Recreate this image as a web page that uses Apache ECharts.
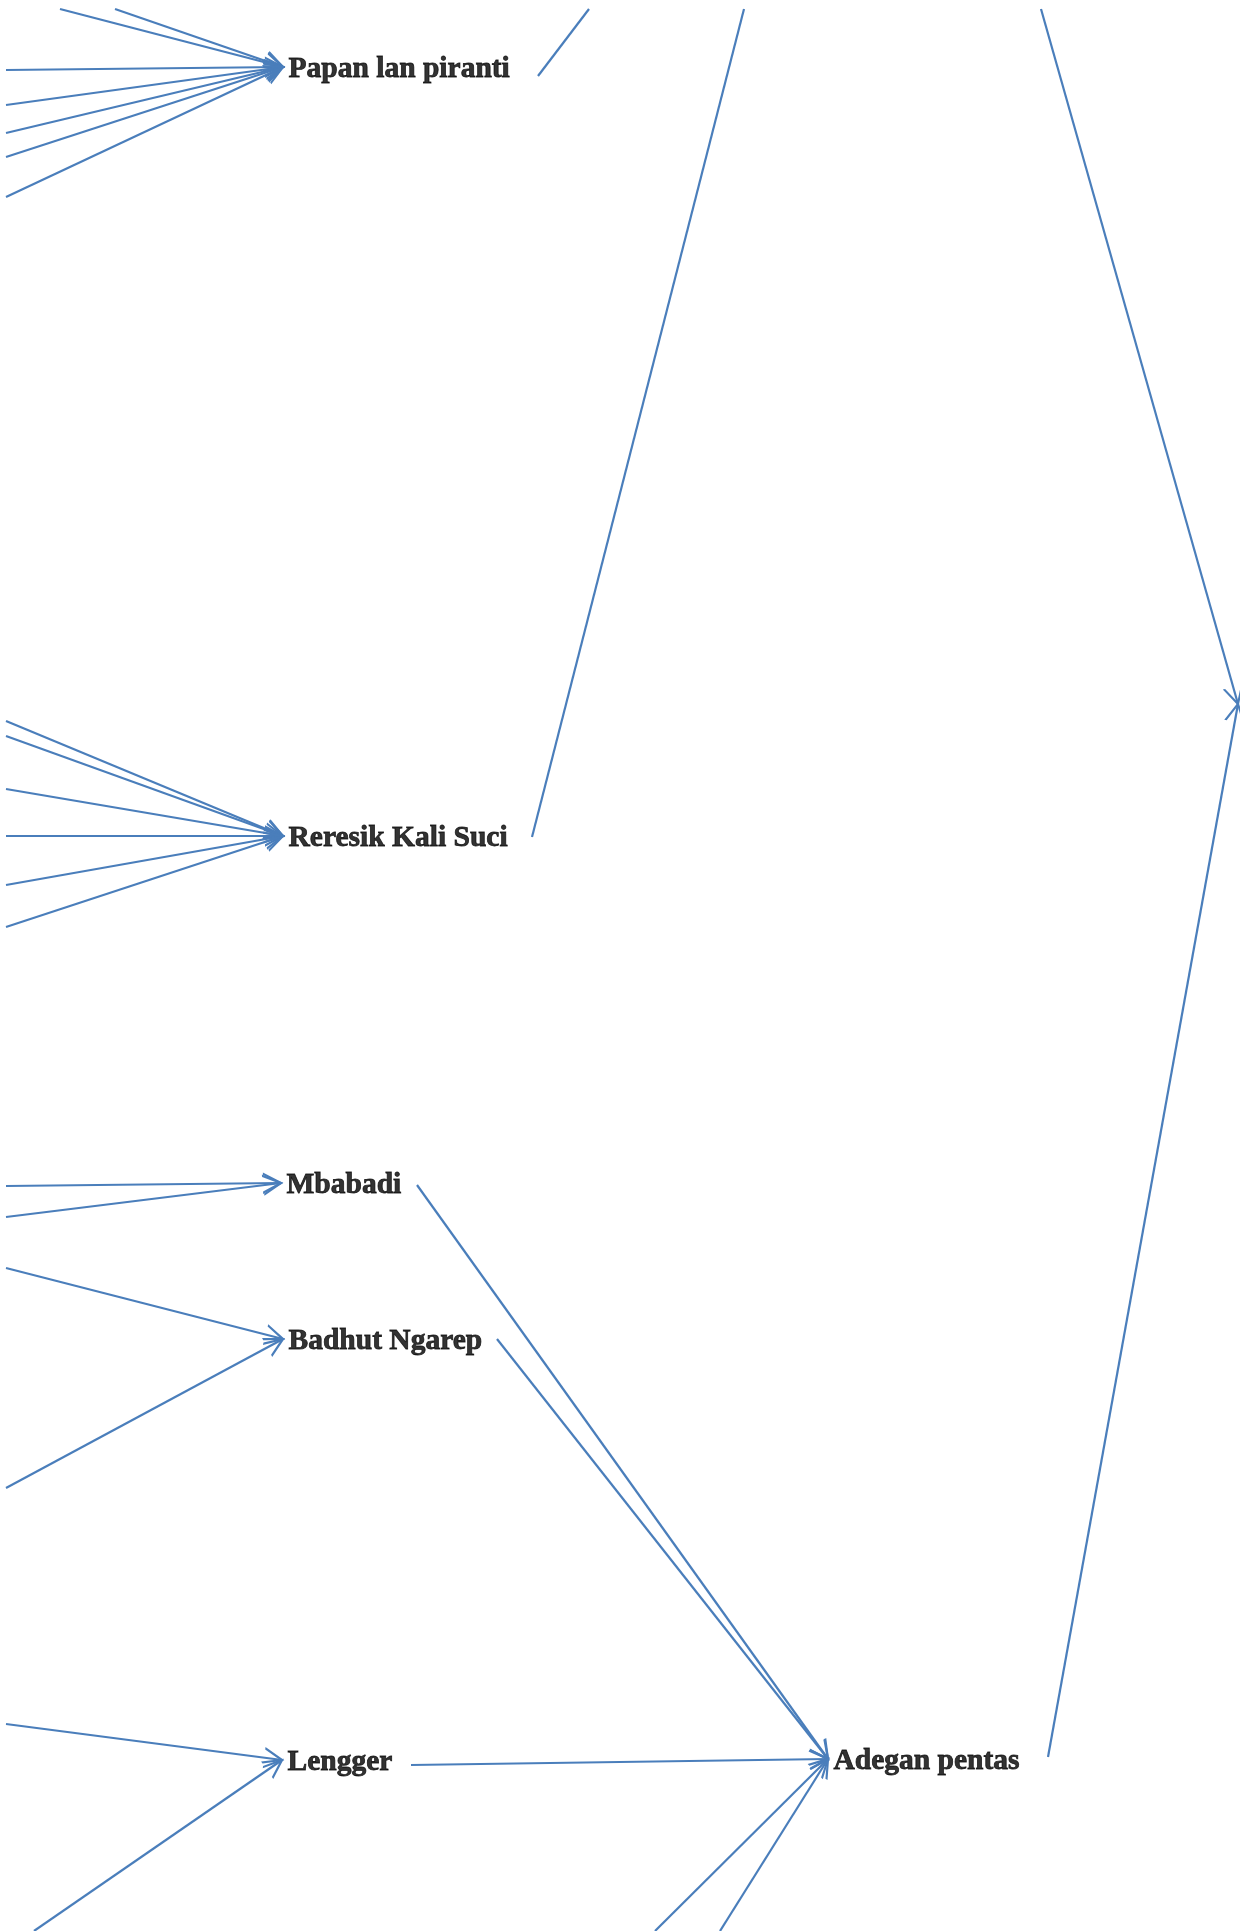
<!DOCTYPE html>
<html>
<head>
<meta charset="utf-8">
<script src="https://cdn.jsdelivr.net/npm/echarts@6/dist/echarts.min.js"></script>
<style>
html,body{margin:0;padding:0;background:#ffffff;}
#chart{width:1240px;height:1931px;}
</style>
</head>
<body>
<div id="chart"></div>
<script>
// ---- Diagram nodes (values on hidden x / y axes of the picture frame) ----
const nodeKeys   = ['papan', 'reresik', 'mbabadi', 'badhut', 'lengger', 'adegan', 'right'];
const nodeLabels = ['Papan lan piranti', 'Reresik Kali Suci', 'Mbabadi', 'Badhut Ngarep', 'Lengger', 'Adegan pentas', ''];
const nodeInX    = [283, 283, 281, 283, 282, 828, 1238];
const nodeInY    = [67, 836, 1183, 1339, 1760, 1759, 704];
const nodeOutX   = [538, 532, 417, 497, 411, 1048, null];
const nodeOutY   = [76, 837, 1185, 1339, 1765, 1757, null];

// ---- Points where links leave the picture frame ----
const exitKeys = ['t1', 't2', 'l1', 'l2', 'l3', 'l4', 'l5',
                  'l6', 'l7', 'l8', 'l9', 'l10', 'l11',
                  'l12', 'l13', 'l14', 'l15', 'l16',
                  'b1', 'b2', 'b3', 't3', 't4', 't5'];
const exitX = [60, 115, 6, 6, 6, 6, 6,
               6, 6, 6, 6, 6, 6,
               6, 6, 6, 6, 6,
               34, 655, 720, 589, 744, 1041];
const exitY = [9, 9, 70, 105, 133, 157, 197,
               721, 736, 789, 836, 885, 927,
               1186, 1217, 1268, 1488, 1724,
               1931, 1931, 1931, 9, 9, 9];

// ---- Links (source -> target) ----
const linkFrom = ['t1', 't2', 'l1', 'l2', 'l3', 'l4', 'l5',
                  'l6', 'l7', 'l8', 'l9', 'l10', 'l11',
                  'l12', 'l13', 'l14', 'l15', 'l16', 'b1',
                  'mbabadi', 'badhut', 'lengger', 'b2', 'b3',
                  'papan', 'reresik', 't5', 'adegan'];
const linkTo   = ['papan', 'papan', 'papan', 'papan', 'papan', 'papan', 'papan',
                  'reresik', 'reresik', 'reresik', 'reresik', 'reresik', 'reresik',
                  'mbabadi', 'mbabadi', 'badhut', 'badhut', 'lengger', 'lengger',
                  'adegan', 'adegan', 'adegan', 'adegan', 'adegan',
                  't3', 't4', 'right', 'right'];

// open "V" arrow head, tip at the centre of a square box
const ARROW = 'path://M0 0L0.001 0.001ZM100 100L99.999 99.999Z' +
              'M50 43.5L79.8 100L73 100L50 56.5L27 100L20.2 100Z';

function endPoint(key, asSource) {
  const i = nodeKeys.indexOf(key);
  if (i >= 0) {
    return {
      p: asSource ? [nodeOutX[i], nodeOutY[i]] : [nodeInX[i], nodeInY[i]],
      node: true
    };
  }
  const j = exitKeys.indexOf(key);
  return { p: [exitX[j], exitY[j]], node: false };
}

const lineData = linkFrom.map(function (f, k) {
  const a = endPoint(f, true);
  const b = endPoint(linkTo[k], false);
  return {
    coords: [a.p, b.p],
    symbol: ['none', b.node ? ARROW : 'none'],
    symbolSize: [0, 36]
  };
});

const labelData = [];
nodeKeys.forEach(function (k, i) {
  if (nodeLabels[i]) {
    labelData.push({ name: nodeLabels[i], value: [nodeInX[i], nodeInY[i]] });
  }
});

const chart = echarts.init(document.getElementById('chart'), null, { renderer: 'canvas' });
chart.setOption({
  animation: false,
  backgroundColor: '#ffffff',
  grid: { left: 0, right: 0, top: 0, bottom: 0, containLabel: false },
  xAxis: { type: 'value', min: 0, max: 1240, show: false },
  yAxis: { type: 'value', min: 0, max: 1931, inverse: true, show: false },
  series: [
    {
      type: 'lines',
      coordinateSystem: 'cartesian2d',
      polyline: false,
      clip: false,
      silent: true,
      z: 2,
      lineStyle: { color: '#4A7EBB', width: 2.2, opacity: 1, type: 'solid' },
      data: lineData
    },
    {
      type: 'scatter',
      coordinateSystem: 'cartesian2d',
      silent: true,
      z: 3,
      symbol: 'circle',
      symbolSize: 1,
      itemStyle: { color: 'rgba(0,0,0,0)' },
      label: {
        show: true,
        position: 'right',
        distance: 5,
        offset: [0, 2],
        formatter: '{b}',
        fontFamily: 'Liberation Serif',
        fontWeight: 'bold',
        fontSize: 29.5,
        color: '#000000',
        textBorderColor: '#000000',
        textBorderWidth: 0.8
      },
      data: labelData
    }
  ]
});
</script>
</body>
</html>
